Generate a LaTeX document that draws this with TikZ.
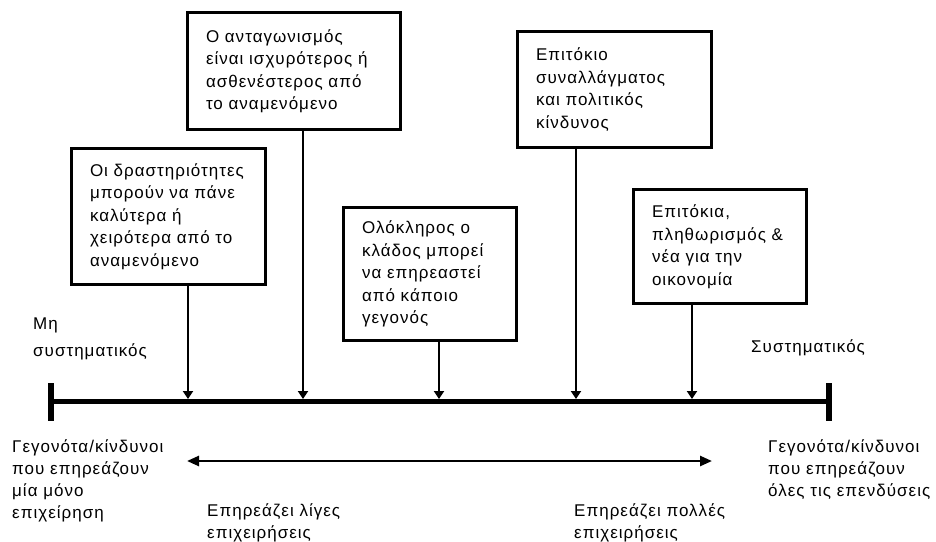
\documentclass[tikz,border=0pt]{standalone}
\usepackage{fontspec}
\setmainfont{Liberation Sans}[LetterSpace=6]
\usetikzlibrary{arrows.meta}
\begin{document}
\begin{tikzpicture}[x=1pt,y=-1pt,
  box/.style={draw, line width=3pt, align=left, inner xsep=18.5pt, inner ysep=0pt,
    font=\fontsize{17}{22.5}\selectfont},
  lbl/.style={align=left, inner sep=0pt, anchor=base west, font=\fontsize{17}{22}\selectfont},
  feed/.style={line width=2pt, -{Triangle[length=8pt,width=10pt]}},
  span/.style={line width=2.5pt, {Triangle[length=12pt,width=10pt]}-{Triangle[length=12pt,width=10pt]}},
  axis/.style={line width=5pt}]
\useasboundingbox (0,0) rectangle (936,541);

% boxes
\node[box, text width=157pt, minimum height=136pt] (b1) at (168.5,216.5)
  {Οι δραστηριότητες\\μπορούν να πάνε\\καλύτερα ή\\χειρότερα από το\\αναμενόμενο};
\node[box, text width=176pt, minimum height=117pt] (b2) at (294,71)
  {Ο ανταγωνισμός\\είναι ισχυρότερος ή\\ασθενέστερος από\\το αναμενόμενο};
\node[box, text width=136pt, minimum height=133pt] (b3) at (430,274)
  {Ολόκληρος ο\\κλάδος μπορεί\\να επηρεαστεί\\από κάποιο\\γεγονός};
\node[box, text width=157pt, minimum height=116pt] (b4) at (614.5,89.5)
  {Επιτόκιο\\συναλλάγματος\\και πολιτικός\\κίνδυνος};
\node[box, text width=136pt, minimum height=114pt] (b5) at (720,246.5)
  {Επιτόκια,\\πληθωρισμός \&\\νέα για την\\οικονομία};

% axis
\coordinate (L) at (51,401);
\coordinate (R) at (829,401);
\coordinate (Lt) at (51,383);
\coordinate (Lb) at (51,421);
\coordinate (Rt) at (829,383);
\coordinate (Rb) at (829,421);
\draw[axis] (L) -- (R);
\draw[line width=6pt] (Lt) -- (Lb);
\draw[line width=6pt] (Rt) -- (Rb);

% points on axis
\coordinate (p1) at (188,399);
\coordinate (p2) at (303,399);
\coordinate (p3) at (439,399);
\coordinate (p4) at (576,399);
\coordinate (p5) at (692,399);
\draw[feed] (b1.south -| p1) -- (p1);
\draw[feed] (b2.south -| p2) -- (p2);
\draw[feed] (b3.south -| p3) -- (p3);
\draw[feed] (b4.south -| p4) -- (p4);
\draw[feed] (b5.south -| p5) -- (p5);

% span arrow
\coordinate (sl) at (187,461);
\coordinate (sr) at (712,461);
\draw[span] (sl) -- (sr);

% labels (base = baseline of last line)
\node[lbl, font=\fontsize{17}{27}\selectfont] (ms) at (33,356) {Μη\\συστηματικός};
\node[lbl] (sy) at (751,352) {Συστηματικός};
\node[lbl] (lb) at (12,518) {Γεγονότα/κίνδυνοι\\που επηρεάζουν\\μία μόνο\\επιχείρηση};
\node[lbl] (rb) at (768,496) {Γεγονότα/κίνδυνοι\\που επηρεάζουν\\όλες τις επενδύσεις};
\node[lbl] (few) at (207,538) {Επηρεάζει λίγες\\επιχειρήσεις};
\node[lbl] (many) at (574,538) {Επηρεάζει πολλές\\επιχειρήσεις};
\end{tikzpicture}
\end{document}
